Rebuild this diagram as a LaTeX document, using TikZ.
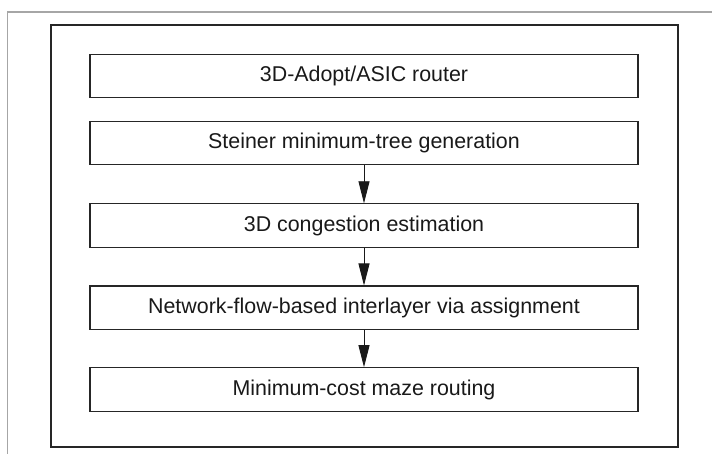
\documentclass[tikz,border=0pt]{standalone}
\usepackage{fontspec}
\setmainfont{Liberation Sans}
\usetikzlibrary{arrows.meta}
\begin{document}
\begin{tikzpicture}[x=1pt,y=-1pt,
  stage/.style={draw=black!85, line width=1.1pt, minimum width=548pt,
    minimum height=43.5pt, inner sep=0pt,
    font=\fontsize{21.4}{24}\selectfont, text=black!90},
  flow/.style={draw=black!90, line width=0.9pt,
    -{Triangle[length=22pt,width=11pt]}}]
  \useasboundingbox (0,0) rectangle (712,454);
  % partial gray frame at top and left
  \draw[gray!70, line width=1.4pt] (7.5,454) -- (7.5,12) -- (712,12);
  % enclosing frame
  \draw[black!85, line width=1.2pt] (51,25) rectangle (678,447);
  % router stages
  \node[stage] (r) at (364,76)    {3D-Adopt/ASIC router};
  \node[stage] (s) at (364,143.1) {Steiner minimum-tree generation};
  \node[stage] (c) at (364,225.6) {3D congestion estimation};
  \node[stage] (v) at (364,307.8) {Network-flow-based interlayer via assignment};
  \node[stage] (m) at (364,389.5) {Minimum-cost maze routing};
  \draw[flow] (s) -- (c);
  \draw[flow] (c) -- (v);
  \draw[flow] (v) -- (m);
\end{tikzpicture}
\end{document}
